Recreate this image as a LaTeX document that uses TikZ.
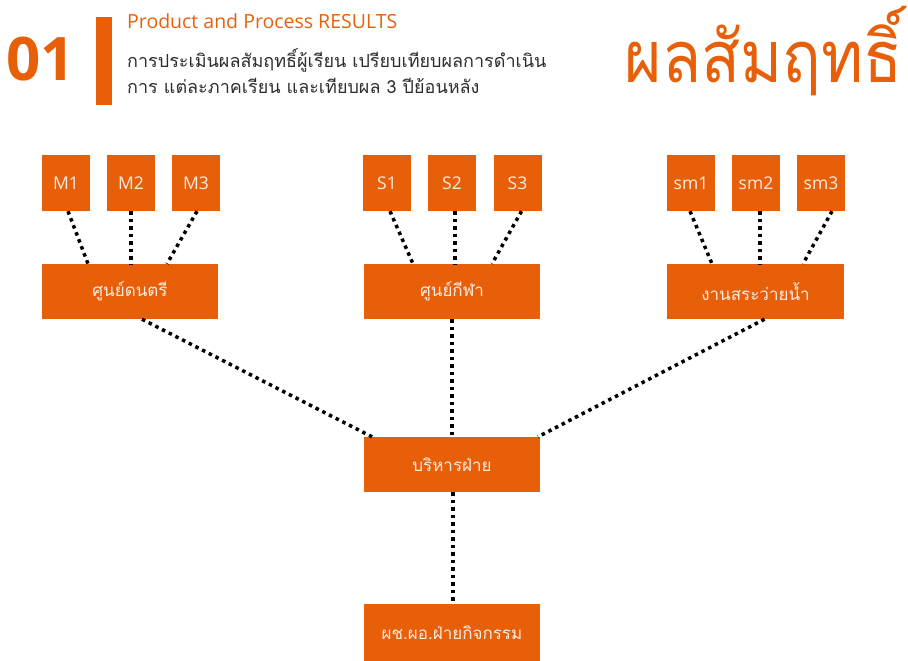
\documentclass[tikz,border=0pt]{standalone}
\usepackage{fontspec}
\setmainfont[Script=Thai]{Loma}
\newfontfamily\latinfont{Open Sans}
\newfontfamily\titlefont[Script=Thai,FakeStretch=0.89]{Loma}
\definecolor{org}{RGB}{232,95,10}
\definecolor{boxtext}{RGB}{255,236,225}
\definecolor{desc}{RGB}{45,45,45}
\begin{document}
\begin{tikzpicture}[x=1pt,y=-1pt,
  box/.style={fill=org,draw=none,inner sep=0pt,text=boxtext,font=\fontsize{17}{20}\selectfont},
  small/.style={box,minimum width=48pt,minimum height=56pt,font=\latinfont\fontsize{17.5}{20}\selectfont},
  big/.style={box,minimum width=176pt,minimum height=55pt},
  conn/.style={draw=black,line width=3.5pt,dash pattern=on 3.5pt off 4pt}]
\useasboundingbox (0,0) rectangle (908,661);
% header
\node[anchor=base west,inner sep=0pt,text=org,font=\latinfont\fontsize{60}{60}\selectfont\bfseries] (num) at (6,81) {01};
\fill[org] (96,17) rectangle (112,105);
\node[anchor=base west,inner sep=0pt,text=org,font=\latinfont\fontsize{19.5}{22}\selectfont] (sub) at (127,29) {Product and Process RESULTS};
\node[anchor=base west,inner sep=0pt,text=desc,font=\fontsize{18}{20}\selectfont] (d1) at (127,68) {การประเมินผลสัมฤทธิ์ผู้เรียน เปรียบเทียบผลการดำเนิน};
\node[anchor=base west,inner sep=0pt,text=desc,font=\fontsize{18}{20}\selectfont] (d2) at (127,93) {การ แต่ละภาคเรียน และเทียบผล 3 ปีย้อนหลัง};
\node[anchor=base east,inner sep=0pt,text=org,font=\titlefont\fontsize{72}{72}\selectfont] (title) at (903,83) {ผลสัมฤทธิ์};
% level 1
\node[small] (m1) at (66,183) {M1};
\node[small] (m2) at (131,183) {M2};
\node[small] (m3) at (196,183) {M3};
\node[small] (s1) at (387,183) {S1};
\node[small] (s2) at (452,183) {S2};
\node[small] (s3) at (517.5,183) {S3};
\node[small] (w1) at (691,183) {sm1};
\node[small] (w2) at (756,183) {sm2};
\node[small] (w3) at (821,183) {sm3};
% level 2
\node[big] (mus) at (130,291.5) {ศูนย์ดนตรี};
\node[big] (spo) at (452,291.5) {ศูนย์กีฬา};
\node[big,minimum width=177pt] (swi) at (755.5,291.5) {งานสระว่ายน้ำ};
% level 3
\node[big] (adm) at (452,464.5) {บริหารฝ่าย};
\node[big,minimum height=57pt] (dir) at (452,632.5) {ผช.ผอ.ฝ่ายกิจกรรม};
% connectors
\draw[conn] ([xshift=2]m1.south) -- ([xshift=-42]mus.north);
\draw[conn] (m2.south) -- ([xshift=1]mus.north);
\draw[conn] ([xshift=1]m3.south) -- ([xshift=37]mus.north);
\draw[conn] ([xshift=3]s1.south) -- ([xshift=-39]spo.north);
\draw[conn] ([xshift=3]s2.south) -- ([xshift=3]spo.north);
\draw[conn] ([xshift=4]s3.south) -- ([xshift=40]spo.north);
\draw[conn] ([xshift=-1]w1.south) -- ([xshift=-43.5]swi.north);
\draw[conn] ([xshift=4]w2.south) -- ([xshift=4.5]swi.north);
\draw[conn] ([xshift=11]w3.south) -- ([xshift=47.5]swi.north);
\draw[conn] ([xshift=12]mus.south) -- ([xshift=-80]adm.north);
\draw[conn] (spo.south) -- (adm.north);
\draw[conn] ([xshift=9]swi.south) -- ([xshift=86]adm.north);
\draw[conn] ([xshift=1]adm.south) -- ([xshift=1]dir.north);
\end{tikzpicture}
\end{document}
